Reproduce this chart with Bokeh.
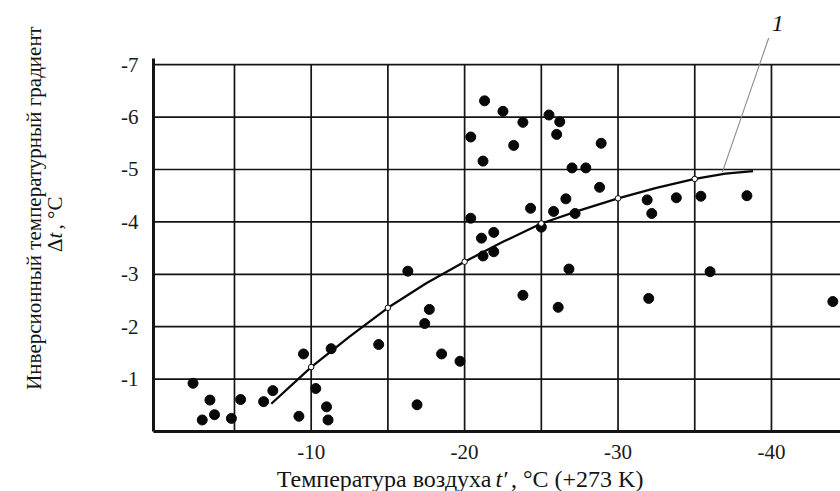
import numpy as np
from bokeh.plotting import figure
from bokeh.models import Range1d, FixedTicker, Label
from bokeh.embed import file_html
from bokeh.resources import INLINE

# ---- data ----
obs_t = [-2.3, -3.4, -2.9, -3.7, -4.8, -5.4, -6.9, -7.5, -9.2, -9.5,
         -10.3, -11.0, -11.1, -11.3, -14.4, -16.3, -16.9, -17.4, -17.7, -18.5,
         -19.7, -21.2, -21.9, -26.8, -23.8, -26.1, -32.0, -36.0, -44.0, -21.3,
         -22.5, -23.8, -25.5, -26.2, -26.0, -20.4, -23.2, -21.2, -28.9, -27.0,
         -27.9, -28.8, -26.6, -31.9, -32.2, -33.8, -35.4, -38.4, -24.3, -25.8,
         -27.2, -20.4, -21.1, -21.9, -25.0]
obs_dt = [-0.92, -0.60, -0.22, -0.32, -0.25, -0.61, -0.57, -0.78, -0.29, -1.48,
          -0.82, -0.47, -0.22, -1.58, -1.66, -3.06, -0.51, -2.06, -2.33, -1.48,
          -1.34, -3.35, -3.43, -3.10, -2.60, -2.37, -2.54, -3.05, -2.48, -6.31,
          -6.11, -5.90, -6.04, -5.91, -5.67, -5.62, -5.46, -5.16, -5.50, -5.03,
          -5.03, -4.66, -4.44, -4.42, -4.16, -4.46, -4.49, -4.50, -4.26, -4.20,
          -4.16, -4.07, -3.69, -3.80, -3.90]

curve_t = [-7.4, -10.0, -12.5, -15.0, -17.5, -20.0, -22.5, -25.0, -27.5,
           -30.0, -32.5, -35.0, -37.0, -38.8]
curve_dt = [-0.53, -1.23, -1.81, -2.36, -2.83, -3.24, -3.62, -3.97, -4.22,
            -4.45, -4.65, -4.82, -4.92, -4.97]

node_t = [-10, -15, -20, -25, -30, -35]
node_dt = [-1.23, -2.36, -3.24, -3.97, -4.45, -4.82]

x_ticks = [-10, -20, -30, -40]
x_tick_labels = ["-10", "-20", "-30", "-40"]
x_grid = [-5, -10, -15, -20, -25, -30, -35, -40]
y_ticks = [-1, -2, -3, -4, -5, -6, -7]
y_tick_labels = ["-1", "-2", "-3", "-4", "-5", "-6", "-7"]

SERIF = "Liberation Serif"
INK = "#141414"

X0, X1 = 10.25, -44.50     # visible temperature span (canvas edge to edge)
Y0, Y1 = 1.145, -8.225     # visible gradient span
AX_X = 0.28                # where the vertical axis stands
Y_TOP = -7.12              # top end of the vertical axis line

p = figure(width=840, height=491,
           x_range=Range1d(X0, X1), y_range=Range1d(Y0, Y1),
           output_backend="svg", toolbar_location=None,
           min_border_left=0, min_border_right=0,
           min_border_top=0, min_border_bottom=0)
p.outline_line_color = None
p.background_fill_color = "white"
p.border_fill_color = "white"
p.xgrid.grid_line_color = None
p.ygrid.grid_line_color = None

# axes drawn at fixed places inside the frame
for ax in (p.xaxis[0], p.yaxis[0]):
    ax.axis_line_width = 3
    ax.axis_line_color = INK
    ax.major_tick_line_color = None
    ax.minor_tick_line_color = None
    ax.major_tick_out = 0
    ax.major_tick_in = 0
    ax.major_label_text_font = SERIF
    ax.major_label_text_font_size = "21px"
    ax.major_label_text_color = "#1a1a1a"

p.xaxis.fixed_location = 0
p.xaxis.bounds = (X1, AX_X)
p.xaxis.ticker = FixedTicker(ticks=x_ticks)
p.xaxis.major_label_overrides = dict(zip(x_ticks, x_tick_labels))
p.xaxis.major_label_standoff = 13

p.yaxis.fixed_location = AX_X
p.yaxis.bounds = (Y_TOP, 0)
p.yaxis.ticker = FixedTicker(ticks=y_ticks)
p.yaxis.major_label_overrides = dict(zip(y_ticks, y_tick_labels))
p.yaxis.major_label_standoff = 15

# grid lines (only inside the chart box)
p.segment(x0=x_grid, y0=[0] * len(x_grid), x1=x_grid, y1=[y_ticks[-1]] * len(x_grid),
          line_color=INK, line_width=1.7)
p.segment(x0=[AX_X] * len(y_ticks), y0=y_ticks, x1=[X1] * len(y_ticks), y1=y_ticks,
          line_color=INK, line_width=1.7)

# observations
p.scatter(obs_t, obs_dt, size=10, color="#080808")

# fitted curve
p.line(curve_t, curve_dt, line_color="#080808", line_width=2.3)
p.scatter(node_t, node_dt, size=5.5, fill_color="white", line_color="#080808", line_width=1)

# leader line and label "1"
p.line([-36.8, -39.82], [-4.95, -7.51], line_color="#8a8a8a", line_width=1.1)
p.add_layout(Label(x=-40.41, y=-7.79, text="1", text_font=SERIF, text_font_style="italic",
                   text_font_size="24px", text_align="center", text_baseline="middle",
                   text_color=INK))

# x title (with italic t')
xt_y = 0.90
XT = "24px"
p.add_layout(Label(x=-21.75, y=xt_y, text="Температура воздуха", text_font=SERIF,
                   text_font_size=XT, text_align="right", text_baseline="middle",
                   text_color=INK))
p.add_layout(Label(x=-22.01, y=xt_y, text="t′", text_font=SERIF, text_font_style="italic",
                   text_font_size=XT, text_align="left", text_baseline="middle",
                   text_color=INK))
p.add_layout(Label(x=-23.02, y=xt_y, text=", °C (+273 K)", text_font=SERIF,
                   text_font_size=XT, text_align="left", text_baseline="middle",
                   text_color=INK))

# y title, two lines rotated
YT = "21px"
p.add_layout(Label(x=8.04, y=-4.265, text="Инверсионный температурный градиент",
                   text_font=SERIF, text_font_size=YT, angle=np.pi / 2,
                   text_align="center", text_baseline="middle", text_color=INK))
p.add_layout(Label(x=6.67, y=-3.683, text="Δ", text_font=SERIF, text_font_size=YT,
                   angle=np.pi / 2, text_align="right", text_baseline="middle", text_color=INK))
p.add_layout(Label(x=6.67, y=-3.683, text="t", text_font=SERIF, text_font_style="italic",
                   text_font_size=YT, angle=np.pi / 2, text_align="left",
                   text_baseline="middle", text_color=INK))
p.add_layout(Label(x=6.67, y=-3.855, text=", °C", text_font=SERIF, text_font_size=YT,
                   angle=np.pi / 2, text_align="left", text_baseline="middle", text_color=INK))

open("out.html", "w").write(file_html(p, INLINE))
